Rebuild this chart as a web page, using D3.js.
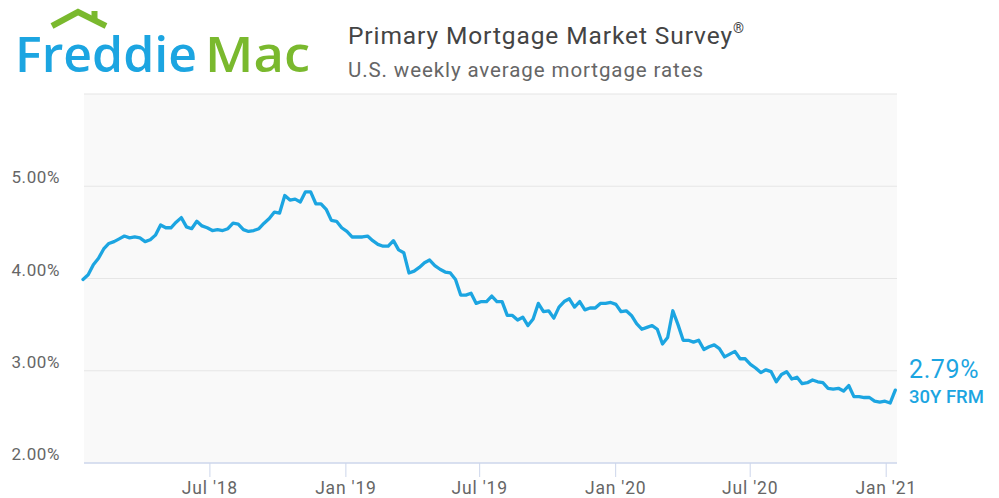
<!DOCTYPE html>
<html>
<head>
<meta charset="utf-8">
<script src="https://cdn.jsdelivr.net/npm/d3@7"></script>
<style>
  body { margin: 0; background: #fff; }
  svg { display: block; font-family: Roboto, "Open Sans", sans-serif; }
</style>
</head>
<body>
<svg id="chart"></svg>
<script>
const width = 999, height = 498;

// weekly 30Y fixed rate, first reading Jan 11 2018
const firstWeek = "2018-01-11";
const rates2018 = [3.99, 4.04, 4.15, 4.22, 4.32, 4.38, 4.40, 4.43, 4.46, 4.44, 4.45, 4.44,
  4.40, 4.42, 4.47, 4.58, 4.55, 4.55, 4.61, 4.66, 4.56, 4.54, 4.62, 4.57, 4.55,
  4.52, 4.53, 4.52, 4.54, 4.60, 4.59, 4.53, 4.51, 4.52, 4.54, 4.60, 4.65, 4.72,
  4.71, 4.90, 4.85, 4.86, 4.83, 4.94, 4.94, 4.81, 4.81, 4.75, 4.63, 4.62, 4.55];
const rates2019 = [4.51, 4.45, 4.45, 4.45, 4.46, 4.41, 4.37, 4.35, 4.35, 4.41, 4.31, 4.28,
  4.06, 4.08, 4.12, 4.17, 4.20, 4.14, 4.10, 4.07, 4.06, 3.99, 3.82, 3.82, 3.84,
  3.73, 3.75, 3.75, 3.81, 3.75, 3.75, 3.60, 3.60, 3.55, 3.58, 3.49, 3.56, 3.73,
  3.64, 3.65, 3.57, 3.69, 3.75, 3.78, 3.69, 3.75, 3.66, 3.68, 3.68, 3.73, 3.73, 3.74];
const rates2020 = [3.72, 3.64, 3.65, 3.60, 3.51, 3.45, 3.47, 3.49, 3.45, 3.29, 3.36, 3.65,
  3.50, 3.33, 3.33, 3.31, 3.33, 3.23, 3.26, 3.28, 3.24, 3.15, 3.18, 3.21, 3.13,
  3.13, 3.07, 3.03, 2.98, 3.01, 2.99, 2.88, 2.96, 2.99, 2.91, 2.93, 2.86, 2.87,
  2.90, 2.88, 2.87, 2.81, 2.80, 2.81, 2.78, 2.84, 2.72, 2.72, 2.71, 2.71, 2.67, 2.66, 2.67];
const rates2021 = [2.65, 2.79];

const yTicks = [2, 3, 4, 5, 6];
const yLabels = ["2.00%", "3.00%", "4.00%", "5.00%"];
const xTicks = ["2018-07-01", "2019-01-01", "2019-07-01", "2020-01-01", "2020-07-01", "2021-01-01"];
const lastLabel = "2.79%";
const seriesName = "30Y FRM";

const parse = d3.timeParse("%Y-%m-%d");
const rates = rates2018.concat(rates2019, rates2020, rates2021);
const start = parse(firstWeek);
const data = rates.map((v, i) => ({date: d3.timeDay.offset(start, i * 7), value: v}));

const svg = d3.select("#chart").attr("width", width).attr("height", height);

// logo
const blue = "#1ca5e1", green = "#7ab92e";
svg.append("path")
  .attr("d", "M52,26 L78,12 L106,26")
  .attr("fill", "none").attr("stroke", green).attr("stroke-width", 6);
svg.append("rect").attr("x", 91.5).attr("y", 11).attr("width", 6).attr("height", 9).attr("fill", green);
svg.append("text").attr("x", 15).attr("y", 72)
  .attr("font-family", "'Open Sans', sans-serif").attr("font-weight", 600)
  .attr("font-size", 49).attr("fill", blue)
  .attr("textLength", 182).attr("lengthAdjust", "spacingAndGlyphs")
  .text("Freddie");
svg.append("text").attr("x", 205).attr("y", 72)
  .attr("font-family", "'Open Sans', sans-serif").attr("font-weight", 600)
  .attr("font-size", 49).attr("fill", green)
  .attr("textLength", 105).attr("lengthAdjust", "spacingAndGlyphs")
  .text("Mac");

// titles
const title = svg.append("text").attr("x", 348).attr("y", 44)
  .attr("font-size", 24.5).attr("letter-spacing", 0.9).attr("fill", "#444");
title.append("tspan").text("Primary Mortgage Market Survey");
title.append("tspan").attr("font-size", 14).attr("dy", -11).text("®");
svg.append("text").attr("x", 348).attr("y", 77)
  .attr("font-size", 20.5).attr("letter-spacing", 0.9).attr("fill", "#666")
  .text("U.S. weekly average mortgage rates");

// scales
const x = d3.scaleTime()
  .domain(d3.extent(data, d => d.date))
  .range([83, 895.3]);
const y = d3.scaleLinear().domain([2, 6]).range([463, 94]);

// plot background
svg.append("rect")
  .attr("x", 84).attr("y", y(6)).attr("width", 813).attr("height", y(2) - y(6))
  .attr("fill", "#f9f9f9");

// grid
svg.append("g").selectAll("line")
  .data(yTicks.slice(1))
  .join("line")
  .attr("x1", 84).attr("x2", 897)
  .attr("y1", d => y(d)).attr("y2", d => y(d))
  .attr("stroke", "#e6e6e6").attr("stroke-width", 1.2);

svg.append("g").selectAll("text")
  .data(yLabels)
  .join("text")
  .attr("x", 60)
  .attr("y", (d, i) => y(yTicks[i]) - 3)
  .attr("text-anchor", "end")
  .attr("font-size", 17).attr("letter-spacing", 0.6).attr("fill", "#666")
  .text(d => d);

// x axis
const xAxis = d3.axisBottom(x)
  .tickValues(xTicks.map(parse))
  .tickFormat(d3.timeFormat("%b '%y"))
  .tickSize(14).tickPadding(5);
const gx = svg.append("g").attr("transform", `translate(0,${y(2)})`).call(xAxis);
gx.select(".domain").remove();
gx.selectAll(".tick line").attr("stroke", "#ccd6eb");
gx.selectAll(".tick text").attr("font-size", 17.5).attr("letter-spacing", 0.8).attr("fill", "#666")
  .attr("font-family", "Roboto, sans-serif");
svg.append("line").attr("x1", 84).attr("x2", 897).attr("y1", y(2)).attr("y2", y(2))
  .attr("stroke", "#ccd6eb").attr("stroke-width", 1.5);

// line
const line = d3.line().x(d => x(d.date)).y(d => y(d.value));
svg.append("path").datum(data)
  .attr("d", line)
  .attr("fill", "none").attr("stroke", blue)
  .attr("stroke-width", 3.3).attr("stroke-linejoin", "round").attr("stroke-linecap", "round");

// end label
svg.append("text").attr("x", 909).attr("y", 378)
  .attr("font-size", 25).attr("fill", blue).attr("letter-spacing", 0.6)
  .text(lastLabel);
svg.append("text").attr("x", 909).attr("y", 403)
  .attr("font-size", 18.5).attr("font-weight", 500).attr("fill", blue)
  .text(seriesName);
</script>
</body>
</html>
